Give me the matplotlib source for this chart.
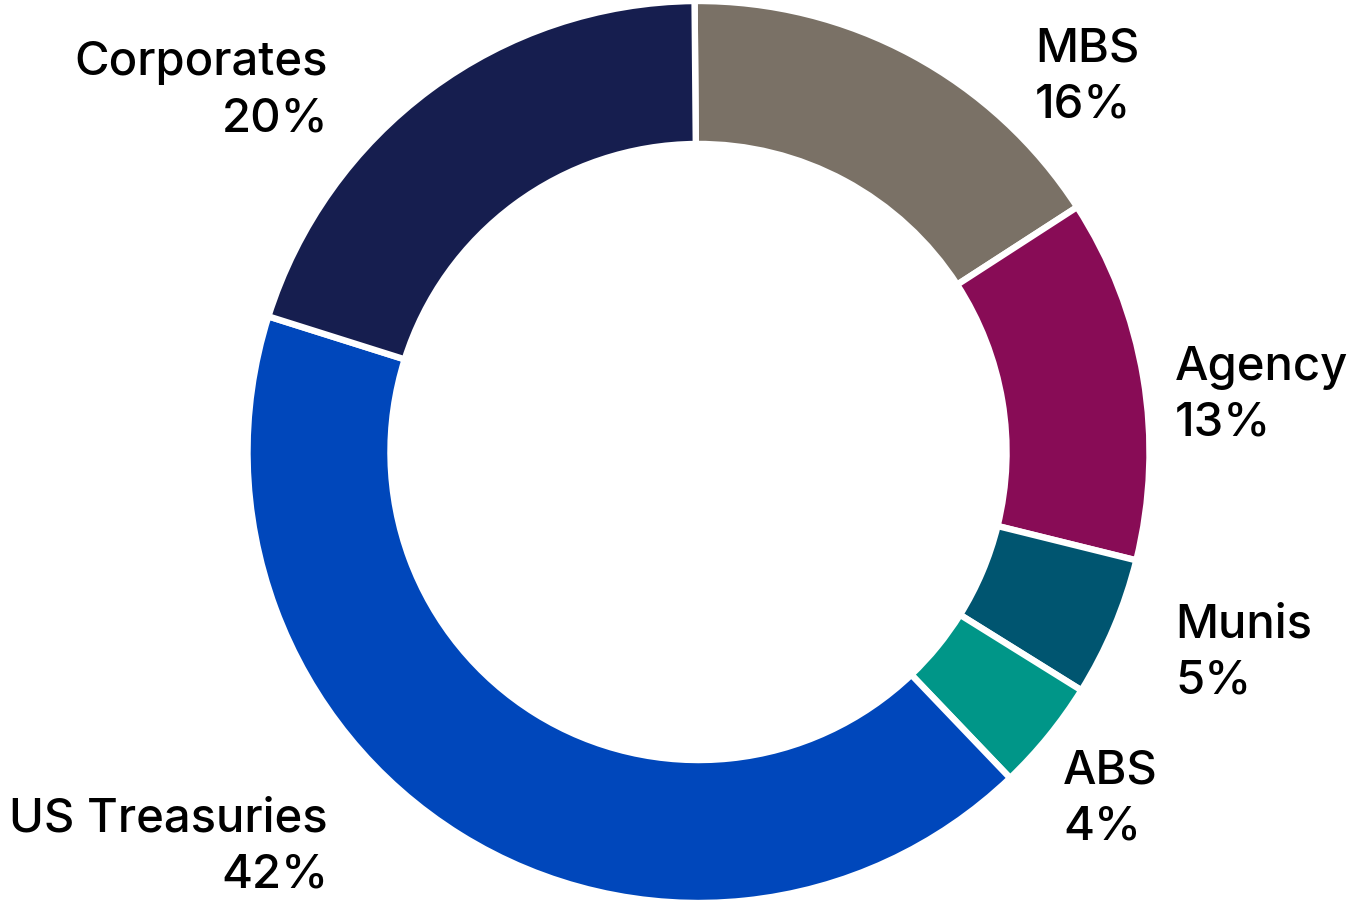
import matplotlib
matplotlib.use("Agg")
import matplotlib.pyplot as plt

# Sector allocation, clockwise from 12 o'clock
sectors = ["MBS", "Agency", "Munis", "ABS", "US Treasuries", "Corporates"]
weights = [16, 13, 5, 4, 42, 20]
colors = ["#7a7166", "#880c56", "#005570", "#009688", "#0047bb", "#161e4f"]

# label anchor (px from left, px from top of first-line baseline) and alignment
label_pos = [(1035, 62, "left"), (1175, 380, "left"), (1175, 637, "left"),
             (1063, 783, "left"), (328, 832, "right"), (328, 75, "right")]

W, H = 1359, 902
fig = plt.figure(figsize=(W / 100, H / 100), dpi=100)
ax = fig.add_axes([0, 0, 1, 1])
ax.set_xlim(0, W)
ax.set_ylim(0, H)
ax.set_aspect("equal")
ax.axis("off")

R = 451
ax.pie(weights, colors=colors, startangle=90.5, counterclock=False,
       center=(698.5, H - 452), radius=R,
       wedgeprops=dict(width=R * 0.317, edgecolor="white", linewidth=4.6))
ax.set_xlim(0, W)
ax.set_ylim(0, H)

font = dict(family=["Inter", "DejaVu Sans"], fontsize=34, fontweight="medium",
            color="black")
for name, w, (x, y, ha) in zip(sectors, weights, label_pos):
    fig.text(x / W, 1 - y / H, name, ha=ha, va="baseline", **font)
    fig.text(x / W, 1 - (y + 56) / H, f"{w}%", ha=ha, va="baseline", **font)

fig.savefig("out.png", dpi=100)
